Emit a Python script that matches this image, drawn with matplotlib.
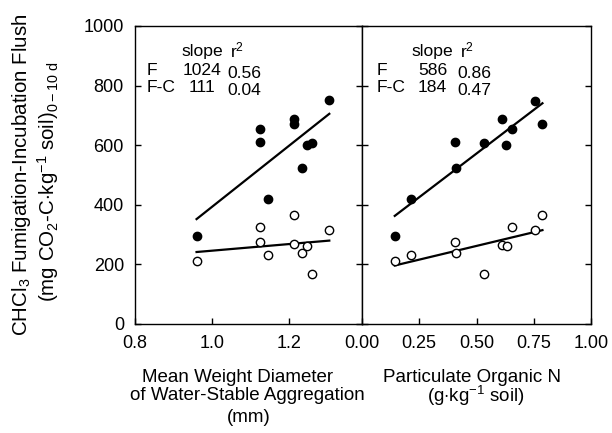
import matplotlib
matplotlib.use("Agg")
import matplotlib.pyplot as plt
import numpy as np

plt.rcParams['font.family'] = ['Liberation Sans', 'DejaVu Sans']
plt.rcParams['mathtext.fontset'] = 'custom'
plt.rcParams['mathtext.rm'] = 'Liberation Sans'
plt.rcParams['mathtext.it'] = 'Liberation Sans:italic'
plt.rcParams['mathtext.bf'] = 'Liberation Sans:bold'

# ---- data ----
mwd_x = [0.96, 1.125, 1.125, 1.146, 1.214, 1.214, 1.233, 1.247, 1.26, 1.305]
mwd_F = [294, 656, 611, 419, 689, 672, 522, 602, 606, 752]
mwd_FC = [210, 326, 274, 232, 366, 267, 239, 263, 167, 317]

pon_xF = [0.143, 0.214, 0.404, 0.411, 0.532, 0.613, 0.630, 0.656, 0.754, 0.788]
pon_F = [294, 420, 612, 522, 606, 689, 602, 656, 750, 672]
pon_xFC = [0.143, 0.214, 0.404, 0.411, 0.532, 0.613, 0.635, 0.656, 0.754, 0.788]
pon_FC = [210, 232, 274, 239, 167, 266, 262, 326, 317, 366]

# regression: slope, intercept
mwd_fit_F = (1024, -631)
mwd_fit_FC = (111, 135)
pon_fit_F = (586, 279)
pon_fit_FC = (184, 170)

mwd_stats = [("F", "1024", "0.56"), ("F-C", "111", "0.04")]
pon_stats = [("F", "586", "0.86"), ("F-C", "184", "0.47")]

mwd_ticks = [0.8, 1.0, 1.2]
mwd_ticklabels = ["0.8", "1.0", "1.2"]
pon_ticks = [0.0, 0.25, 0.5, 0.75, 1.0]
pon_ticklabels = ["0.00", "0.25", "0.50", "0.75", "1.00"]
y_ticks = [0, 200, 400, 600, 800, 1000]

W, H = 612, 433
fig = plt.figure(figsize=(W / 100, H / 100), dpi=100)

top, bot = 26, 324
ax1 = fig.add_axes([135 / W, (H - bot) / H, 227 / W, (bot - top) / H])
ax2 = fig.add_axes([362 / W, (H - bot) / H, 229 / W, (bot - top) / H])

fs = 13
lfs = 13.5
yfs = 14.8
afs = 12.6

def draw(ax, xF, F, xFC, FC, fitF, fitFC):
    for xs, (m, b) in ((xF, fitF), (xFC, fitFC)):
        xx = np.array([min(xs), max(xs)])
        ax.plot(xx, m * xx + b, color='black', lw=1.6, zorder=2)
    ax.plot(xF, F, 'o', ms=6, mfc='black', mec='black', zorder=3)
    ax.plot(xFC, FC, 'o', ms=6, mfc='white', mec='black', mew=1.0, zorder=3)
    ax.set_ylim(0, 1000)
    ax.set_yticks(y_ticks)
    for s in ax.spines.values():
        s.set_linewidth(1.0)
    ax.tick_params(direction='in', length=4.5, width=1.0, labelsize=fs, pad=8)

draw(ax1, mwd_x, mwd_F, mwd_x, mwd_FC, mwd_fit_F, mwd_fit_FC)
draw(ax2, pon_xF, pon_F, pon_xFC, pon_FC, pon_fit_F, pon_fit_FC)

ax1.set_xlim(0.8, 1.39)
ax1.set_xticks(mwd_ticks)
ax1.set_xticklabels(mwd_ticklabels)
ax1.tick_params(axis='y', right=True, labelright=False)

ax2.set_xlim(0, 1.0)
ax2.set_xticks(pon_ticks)
ax2.set_xticklabels(pon_ticklabels)
ax2.tick_params(axis='y', left=True, right=True, labelleft=False)

def stats(ax, rows, xs, xslope, xr):
    ax.text(xslope, 0.913, "slope", transform=ax.transAxes, ha='center', va='center', fontsize=afs)
    ax.text(xr, 0.918, "r$^2$", transform=ax.transAxes, ha='left', va='center', fontsize=afs)
    for i, (lab, sl, r2) in enumerate(rows):
        y = 0.850 - i * 0.058
        ax.text(xs, y, lab, transform=ax.transAxes, ha='left', va='center', fontsize=afs)
        ax.text(xslope, y, sl, transform=ax.transAxes, ha='center', va='center', fontsize=afs)
        ax.text(xr - 0.01, y - 0.008, r2, transform=ax.transAxes, ha='left', va='center', fontsize=afs)

stats(ax1, mwd_stats, 0.053, 0.297, 0.418)
stats(ax2, pon_stats, 0.066, 0.308, 0.428)

# y label
fig.text(22 / W, 1 - 175 / H, "CHCl$_3$ Fumigation-Incubation Flush", rotation=90,
         ha='center', va='center', fontsize=yfs)
fig.text(48 / W, 1 - 182 / H, "(mg CO$_2$-C$\\cdot$kg$^{-1}$ soil)$_{\\mathrm{0-10\\ d}}$", rotation=90,
         ha='center', va='center', fontsize=yfs)

# x labels
fig.text(237.5 / W, 1 - 377 / H, "Mean Weight Diameter", ha='center', va='center', fontsize=lfs)
fig.text(247.5 / W, 1 - 396 / H, "of Water-Stable Aggregation", ha='center', va='center', fontsize=lfs)
fig.text(249 / W, 1 - 417 / H, "(mm)", ha='center', va='center', fontsize=lfs)
fig.text(472 / W, 1 - 377 / H, "Particulate Organic N", ha='center', va='center', fontsize=lfs)
fig.text(476 / W, 1 - 396 / H, "(g$\\cdot$kg$^{-1}$ soil)", ha='center', va='center', fontsize=lfs)

fig.savefig("out.png", dpi=100)
